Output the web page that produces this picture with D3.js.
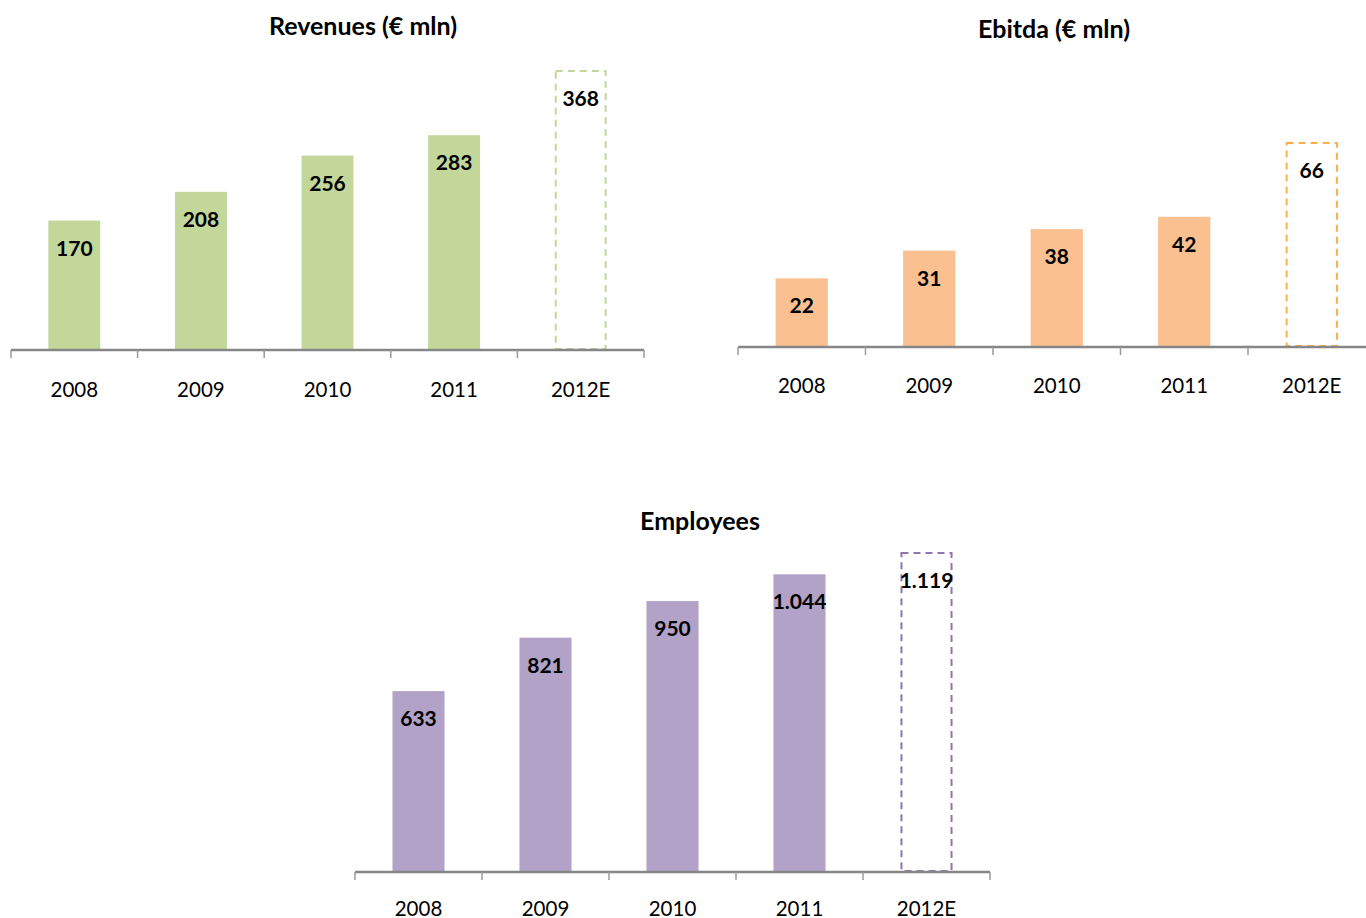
<!DOCTYPE html>
<html>
<head>
<meta charset="utf-8">
<script src="https://cdn.jsdelivr.net/npm/d3@7/dist/d3.min.js"></script>
<style>
  html, body { margin: 0; padding: 0; background: #ffffff; }
  svg { display: block; }
  text { font-family: Lato, "Open Sans", sans-serif; fill: #000; }
</style>
</head>
<body>
<svg id="chart" width="1366" height="918"></svg>
<script>
const years = ["2008", "2009", "2010", "2011", "2012E"];
const revenues = [170, 208, 256, 283, 368];
const ebitda = [22, 31, 38, 42, 66];
const employees = [633, 821, 950, 1044, 1119];
const revenueLabels = ["170", "208", "256", "283", "368"];
const ebitdaLabels = ["22", "31", "38", "42", "66"];
const employeeLabels = ["633", "821", "950", "1.044", "1.119"];
const estimateYear = "2012E";

const svg = d3.select("#chart");

const panels = [
  { title: "Revenues (€ mln)", values: revenues, labels: revenueLabels,
    x0: 11, x1: 644, base: 349, top: 71, titleX: 363, titleY: 35, catY: 396.5,
    fill: "#c4d79b", dash: "#c4d79b" },
  { title: "Ebitda (€ mln)", values: ebitda, labels: ebitdaLabels,
    x0: 738, x1: 1375.5, base: 346, top: 143, titleX: 1054, titleY: 38, catY: 392.5,
    fill: "#fac090", dash: "#fbae4a" },
  { title: "Employees", values: employees, labels: employeeLabels,
    x0: 355, x1: 990, base: 871, top: 553, titleX: 700, titleY: 530, catY: 915.5,
    fill: "#b2a2c7", dash: "#8e76b0" }
];

panels.forEach(p => {
  const g = svg.append("g");
  const x = d3.scaleBand().domain(years).range([p.x0, p.x1])
    .paddingInner(0.59).paddingOuter(0.295);
  const y = d3.scaleLinear().domain([0, d3.max(p.values)]).range([p.base, p.top]);
  const data = years.map((yr, i) => ({ year: yr, value: p.values[i], label: p.labels[i] }));

  // title
  g.append("text")
    .attr("x", p.titleX).attr("y", p.titleY)
    .attr("text-anchor", "middle")
    .style("font-size", "25px").style("font-weight", "bold")
    .text(p.title);

  // bars
  g.selectAll("rect.bar").data(data.filter(d => d.year !== estimateYear)).enter()
    .append("rect").attr("class", "bar")
    .attr("x", d => x(d.year)).attr("width", x.bandwidth())
    .attr("y", d => y(d.value)).attr("height", d => y(0) - y(d.value))
    .attr("fill", p.fill);

  // estimate bar (dashed)
  g.selectAll("rect.est").data(data.filter(d => d.year === estimateYear)).enter()
    .append("rect").attr("class", "est")
    .attr("x", d => x(d.year) + 1).attr("width", x.bandwidth() - 2)
    .attr("y", d => y(d.value)).attr("height", d => y(0) - y(d.value))
    .attr("fill", "none").attr("stroke", p.dash).attr("stroke-width", 2)
    .attr("stroke-dasharray", "7,5");

  // value labels
  g.selectAll("text.val").data(data).enter()
    .append("text").attr("class", "val")
    .attr("x", d => x(d.year) + x.bandwidth() / 2)
    .attr("y", d => y(d.value) + 35)
    .attr("text-anchor", "middle")
    .style("font-size", "21px").style("font-weight", "bold")
    .text(d => d.label);

  // axis line
  const step = x.step();
  const x0 = x.range()[0];
  g.append("line")
    .attr("x1", x0).attr("x2", x.range()[1])
    .attr("y1", p.base + 1).attr("y2", p.base + 1)
    .attr("stroke", "#868686").attr("stroke-width", 2.5);

  // ticks at band boundaries
  const ticks = d3.range(years.length + 1).map(i => x0 + i * step);
  g.selectAll("line.tick").data(ticks).enter()
    .append("line").attr("class", "tick")
    .attr("x1", d => d).attr("x2", d => d)
    .attr("y1", p.base + 1).attr("y2", p.base + 9)
    .attr("stroke", "#9a9a9a").attr("stroke-width", 1.5);

  // category labels
  g.selectAll("text.cat").data(years).enter()
    .append("text").attr("class", "cat")
    .attr("x", d => x(d) + x.bandwidth() / 2)
    .attr("y", p.catY)
    .attr("text-anchor", "middle")
    .style("font-size", "20.5px")
    .text(d => d);
});
</script>
</body>
</html>
